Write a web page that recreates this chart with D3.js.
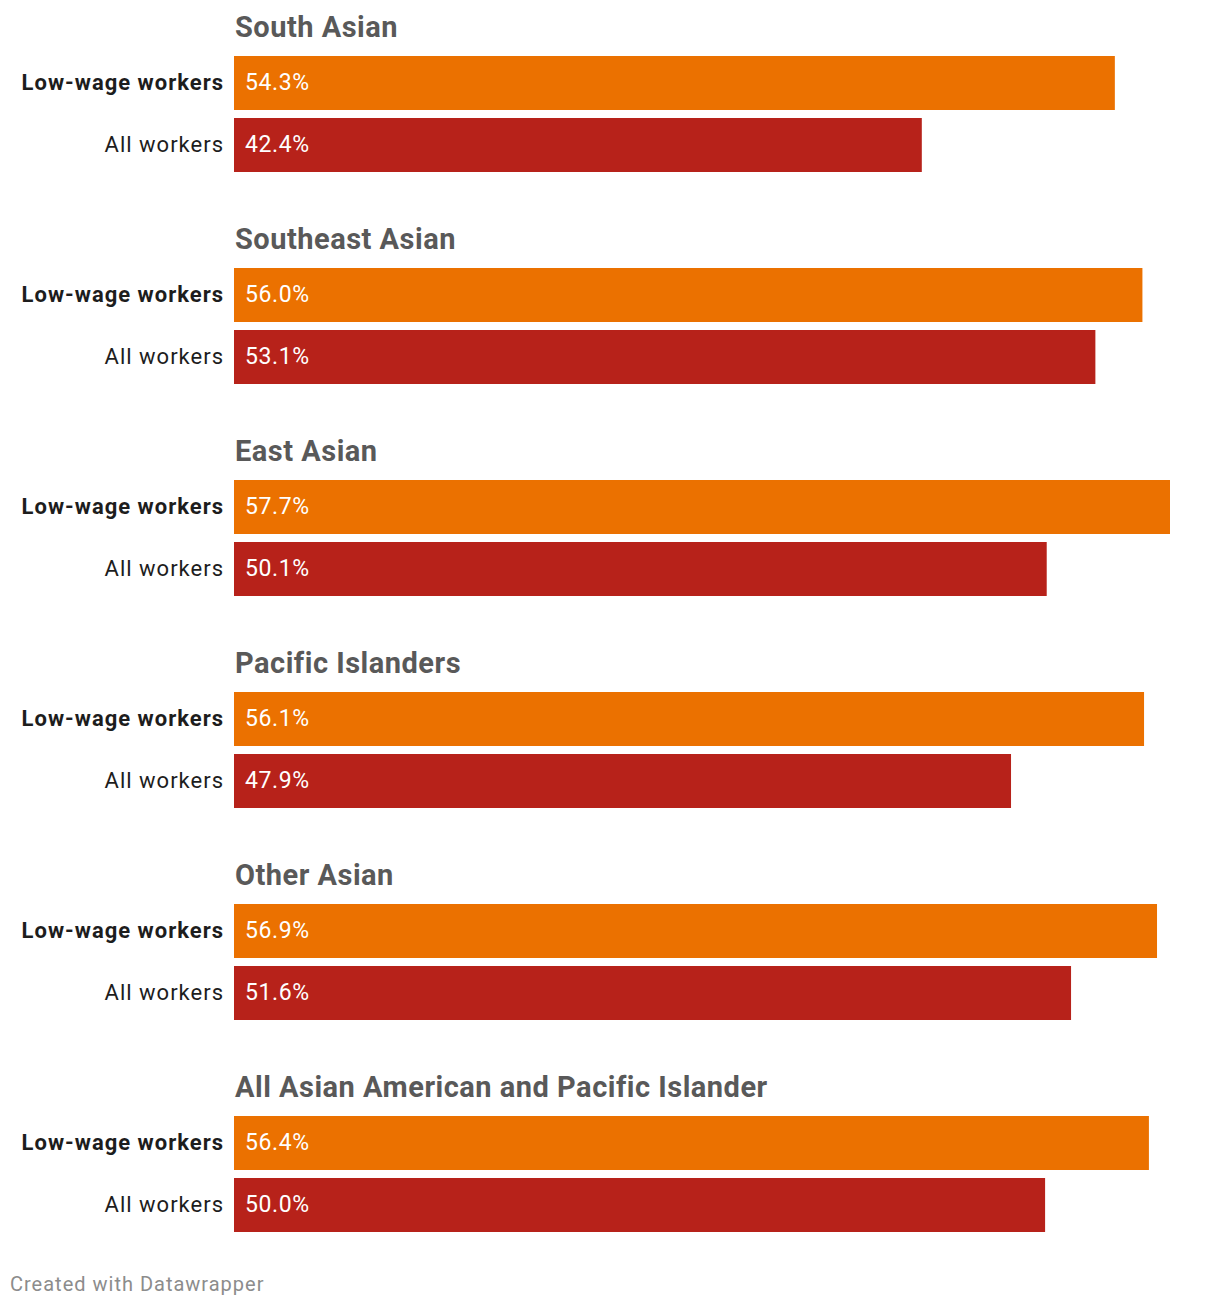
<!DOCTYPE html>
<meta charset="utf-8">
<style>
body { margin: 0; background: #fff; }
text { font-family: Roboto, "Noto Sans", sans-serif; }
.group-title { fill: #595959; font-weight: 700; font-size: 29px; letter-spacing: 0.5px; }
.row-label { fill: #1d1d1d; font-size: 22px; letter-spacing: 1px; }
.row-label.bold { font-weight: 700; }
.bar-text { fill: #fff; font-size: 23px; letter-spacing: 0.6px; }
.footer { fill: #8c8c8c; font-size: 20px; letter-spacing: 1px; }
</style>
<body>
<script src="https://d3js.org/d3.v7.min.js"></script>
<script>

// data
var groups = ["South Asian", "Southeast Asian", "East Asian", "Pacific Islanders", "Other Asian", "All Asian American and Pacific Islander"];
var series = ["Low-wage workers", "All workers"];
var lowWage = [54.3, 56.0, 57.7, 56.1, 56.9, 56.4];
var allWorkers = [42.4, 53.1, 50.1, 47.9, 51.6, 50.0];
var colors = ["#eb7100", "#b7221a"];

var width = 1220, height = 1308;
var barLeft = 234, barRight = 1170;
var barHeight = 54, barGap = 8, groupStep = 212, firstTop = 56;

var svg = d3.select("body").append("svg")
    .attr("width", width)
    .attr("height", height);

var x = d3.scaleLinear().domain([0, d3.max(lowWage.concat(allWorkers))]).range([barLeft, barRight]);

// y position of a group's first bar
var yGroup = d3.scaleLinear().domain([0, 1]).range([firstTop, firstTop + groupStep]);

var rows = [];
groups.forEach(function(g, i) {
    rows.push({group: i, s: 0, value: lowWage[i]});
    rows.push({group: i, s: 1, value: allWorkers[i]});
});

function rowTop(d) { return yGroup(d.group) + d.s * (barHeight + barGap); }

svg.selectAll(".group-title")
    .data(groups)
    .enter().append("text")
    .attr("class", "group-title")
    .attr("x", barLeft + 1)
    .attr("y", function(d, i) { return yGroup(i) - 19; })
    .text(function(d) { return d; });

svg.selectAll(".bar")
    .data(rows)
    .enter().append("rect")
    .attr("class", "bar")
    .attr("x", x(0))
    .attr("y", rowTop)
    .attr("width", function(d) { return x(d.value) - x(0); })
    .attr("height", barHeight)
    .attr("fill", function(d) { return colors[d.s]; });

svg.selectAll(".bar-text")
    .data(rows)
    .enter().append("text")
    .attr("class", "bar-text")
    .attr("x", x(0) + 11)
    .attr("y", function(d) { return rowTop(d) + barHeight / 2; })
    .attr("dy", "0.32em")
    .text(function(d) { return d.value.toFixed(1) + "%"; });

svg.selectAll(".row-label")
    .data(rows)
    .enter().append("text")
    .attr("class", function(d) { return d.s === 0 ? "row-label bold" : "row-label"; })
    .attr("x", barLeft - 10)
    .attr("y", function(d) { return rowTop(d) + barHeight / 2; })
    .attr("dy", "0.32em")
    .attr("text-anchor", "end")
    .text(function(d) { return series[d.s]; });

svg.append("text")
    .attr("class", "footer")
    .attr("x", 10)
    .attr("y", 1291)
    .text("Created with Datawrapper");

</script>
</body>
